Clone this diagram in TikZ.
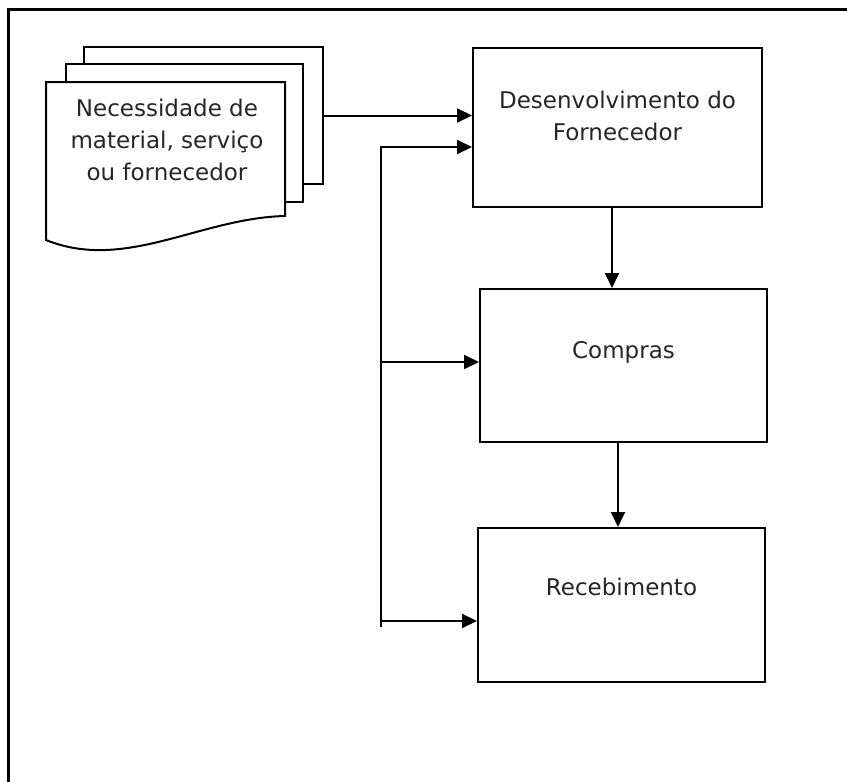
\documentclass[tikz,border=0pt]{standalone}
\usepackage{fontspec}
\setmainfont{DejaVu Sans}
\usetikzlibrary{arrows.meta,positioning}
\begin{document}
\begin{tikzpicture} [
   x=1pt, y=-1pt, line width=2pt,
   arr/.style={-{Triangle[length=15pt,width=14pt]}},
   box/.style={rectangle,draw,fill=white,inner sep=0pt},
   pg/.style={rectangle,draw,fill=white,inner sep=0pt},
   txt/.style={inner sep=0pt,align=center,text=black!85,font=\fontsize{23}{32}\selectfont}
]
   \useasboundingbox (0,0) rectangle (847,782);
   \draw [line width=3pt] (8.5,782) -- (8.5,9.5) -- (847,9.5);
   % stack of pages
   \node (pg3) [pg, minimum width=239pt, minimum height=137pt] at (203.5,115.5) {};
   \node (pg2) [pg, minimum width=237pt, minimum height=138pt] at (184.5,133) {};
   \draw [fill=white] (46,82) -- (285,82) -- (285,216)
         .. controls (200,218) and (125,272) .. (46,240) -- cycle;
   \node (need) [txt, anchor=north] at (167,98.5) {Necessidade de\\material, serviço\\ou fornecedor};
   % process boxes
   \node (dev) [box, minimum width=289pt, minimum height=159pt] at (617.5,127.5) {};
   \node (cmp) [box, minimum width=287pt, minimum height=153pt] at (623.5,365.5) {};
   \node (rcv) [box, minimum width=287pt, minimum height=154pt] at (621.5,605) {};
   \node (devtxt) [txt, below=43.5pt of dev.north] {Desenvolvimento do\\Fornecedor};
   \node (cmptxt) [txt, below=52pt of cmp.north] {Compras};
   \node (rcvtxt) [txt, below=50.5pt of rcv.north] {Recebimento};
   % connectors
   \draw [arr] (pg3.east) -- (pg3.east -| dev.west);
   \draw [arr] (dev.south) ++(-5.5,0) coordinate (d1) -- (d1 |- cmp.north);
   \draw [arr] (cmp.south) ++(-5.5,0) coordinate (c1) -- (c1 |- rcv.north);
   \coordinate (b1) at (381,147);
   \coordinate (b2) at (381,362);
   \coordinate (b3) at (381,621);
   \coordinate (b4) at (381,627);
   \draw [arr] (b4) -- (b1) -- (b1 -| dev.west);
   \draw [arr] (b2) -- (b2 -| cmp.west);
   \draw [arr] (b3) -- (b3 -| rcv.west);
\end{tikzpicture}
\end{document}
